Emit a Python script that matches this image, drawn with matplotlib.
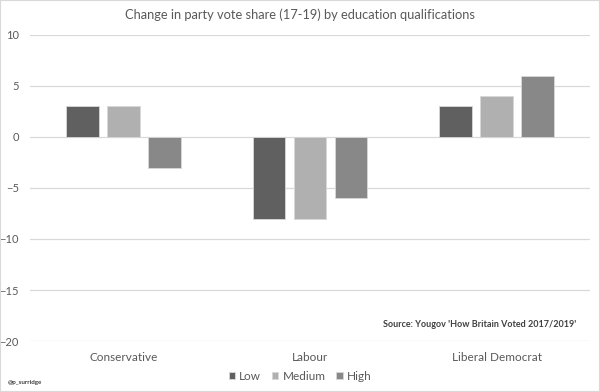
import matplotlib.pyplot as plt
import numpy as np

plt.rcParams['font.family'] = ['Lato', 'DejaVu Sans']

parties = ['Conservative', 'Labour', 'Liberal Democrat']
levels = ['Low', 'Medium', 'High']
low = [3, -8, 3]
medium = [3, -8, 4]
high = [-3, -6, 6]
colors = ['#606060', '#b0b0b0', '#888888']

fig = plt.figure(figsize=(6, 3.92), dpi=100)
ax = fig.add_axes([0.05, 0.13, 0.933, 0.781])

x = np.arange(len(parties))
w = 0.175
for i, (vals, lab) in enumerate(zip([low, medium, high], levels)):
    ax.bar(x + (i - 1) * 0.22, vals, w, color=colors[i], label=lab,
           edgecolor='#d8d8d8', linewidth=0.6, zorder=3)

ax.set_xlim(-0.5, 2.5)
ax.set_ylim(-20, 10)
ax.set_yticks(np.arange(-20, 11, 5))
ax.grid(axis='y', color='#d9d9d9', linewidth=0.9, zorder=0)
for s in ax.spines.values():
    s.set_visible(False)
ax.tick_params(axis='y', length=0, pad=8, labelsize=8, labelcolor='#595959')
ax.tick_params(axis='x', length=0, pad=8, labelsize=8.5, labelcolor='#595959')
ax.set_xticks(x)
ax.set_xticklabels(parties)

fig.text(0.5, 0.962, 'Change in party vote share (17-19) by education qualifications',
         ha='center', va='center', fontsize=9.3, color='#595959')
ax.text(0.975, 0.055, "Source: Yougov 'How Britain Voted 2017/2019'", transform=ax.transAxes,
        ha='right', va='center', fontsize=6.5, color='#404040', fontweight='bold')
fig.text(0.013, 0.025, '@p_surridge', ha='left', va='center', fontsize=4.5,
         color='#404040', fontweight='bold')

fig.legend(loc='center', bbox_to_anchor=(0.5, 0.04), ncol=3, frameon=False,
           fontsize=8.5, labelcolor='#595959', handlelength=0.55, handleheight=0.55,
           handletextpad=0.35, columnspacing=0.9)

fig.patches.append(plt.Rectangle((0, 0), 1, 1, transform=fig.transFigure,
                                 fill=False, edgecolor='#d9d9d9', linewidth=1.5))

plt.savefig('out.png', dpi=100)
